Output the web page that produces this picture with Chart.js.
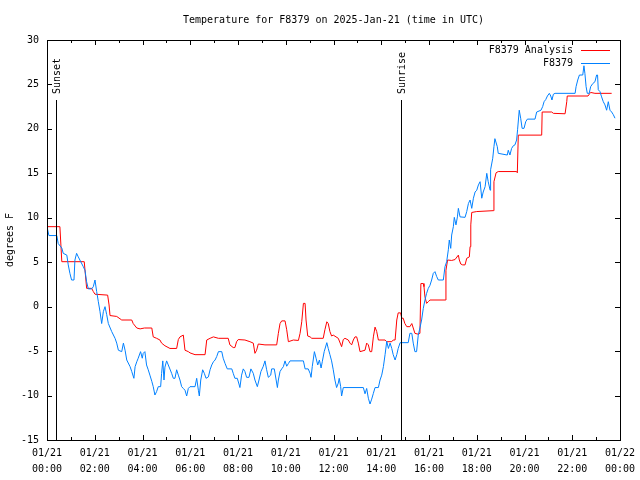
<!DOCTYPE html>
<html>
<head>
<meta charset="utf-8">
<title>Temperature for F8379</title>
<script src="https://cdn.jsdelivr.net/npm/chart.js@4"></script>
<style>
  html, body { margin: 0; padding: 0; background: #fff; }
</style>
</head>
<body>
<canvas id="chartTemp" width="640" height="480"></canvas>
<script>
// hours since 2025-01-21 00:00 UTC, temperatures in degrees F
const analysisHours = [0.00,0.54,0.62,1.56,1.66,1.87,1.94,2.01,2.54,2.60,2.64,2.92,3.13,3.55,3.61,3.76,3.90,4.08,4.39,4.45,
  4.59,4.73,4.80,4.94,5.15,5.43,5.50,5.57,5.71,5.78,5.92,5.99,6.20,6.62,6.69,6.83,6.97,7.18,7.59,7.66,
  7.80,7.87,7.94,8.01,8.29,8.50,8.64,8.71,8.78,8.85,9.13,9.62,9.69,9.76,9.83,9.97,10.04,10.11,10.32,10.53,
  10.60,10.67,10.74,10.81,10.85,10.92,11.02,11.09,11.57,11.64,11.72,11.78,11.85,11.92,11.99,12.20,12.34,12.41,12.48,12.62,
  12.69,12.76,12.83,12.90,12.97,13.04,13.11,13.32,13.39,13.46,13.53,13.60,13.67,13.74,13.81,13.88,14.16,14.23,14.44,14.50,
  14.58,14.65,14.71,14.81,14.86,14.92,14.99,15.07,15.20,15.28,15.34,15.41,15.55,15.62,15.66,15.76,15.79,15.83,15.90,15.97,
  16.04,16.70,16.71,16.78,16.95,17.09,17.23,17.27,17.33,17.41,17.51,17.58,17.69,17.72,17.75,17.79,18.00,18.69,18.72,18.81,
  18.90,19.67,19.70,19.74,20.72,20.74,21.14,21.21,21.70,21.77,21.79,22.66,22.74,22.77,22.95,23.65];
const analysisTemps = [9.0,9.0,5.06,5.06,2.06,2.06,1.7,1.4,1.3,0.19,-1.0,-1.1,-1.5,-1.5,-1.9,-2.4,-2.5,-2.4,-2.4,-3.4,
  -3.56,-3.75,-4.1,-4.4,-4.7,-4.7,-3.7,-3.4,-3.2,-4.9,-5.06,-5.2,-5.4,-5.4,-3.75,-3.56,-3.4,-3.56,-3.56,-4.3,
  -4.6,-4.6,-3.94,-3.7,-3.75,-3.94,-4.1,-5.25,-4.9,-4.2,-4.3,-4.3,-3.0,-1.9,-1.6,-1.6,-2.6,-3.94,-3.75,-3.8,
  -3.0,-1.7,0.37,0.37,-1.5,-3.3,-3.4,-3.56,-3.56,-2.6,-1.7,-1.9,-2.8,-3.3,-3.2,-3.56,-4.5,-3.7,-3.56,-3.75,
  -4.1,-4.3,-3.75,-3.4,-3.4,-4.1,-5.06,-4.9,-4.1,-4.3,-5.06,-5.06,-3.4,-2.3,-2.8,-3.75,-3.75,-3.94,-3.94,-3.75,
  -3.75,-1.5,-0.7,-0.7,-1.3,-1.3,-1.9,-2.25,-2.25,-1.9,-2.4,-3.0,-3.1,-3.0,2.6,2.6,2.25,1.1,0.37,0.56,
  0.75,0.75,4.1,5.25,5.2,5.3,5.8,5.25,4.8,4.7,4.7,5.44,5.6,6.75,9.2,10.6,10.7,10.8,14.06,15.06,
  15.2,15.2,15.06,19.3,19.3,21.9,21.9,21.75,21.7,23.06,23.7,23.7,24.0,24.1,24.0,24.0];

const obsHours = [0.00,0.08,0.41,0.47,0.62,0.68,0.83,0.89,0.96,1.03,1.13,1.17,1.24,1.31,1.52,1.59,1.66,1.73,1.87,1.94,
  2.01,2.08,2.15,2.22,2.29,2.36,2.43,2.50,2.57,2.71,2.85,2.92,2.99,3.13,3.20,3.27,3.34,3.48,3.55,3.64,
  3.69,3.76,3.82,3.92,3.99,4.03,4.10,4.17,4.24,4.31,4.39,4.45,4.52,4.59,4.66,4.76,4.80,4.85,4.90,4.94,
  5.01,5.08,5.22,5.29,5.36,5.43,5.50,5.57,5.64,5.71,5.78,5.85,5.92,5.99,6.20,6.27,6.34,6.38,6.44,6.52,
  6.59,6.66,6.76,6.83,6.90,6.97,7.04,7.11,7.18,7.32,7.38,7.46,7.55,7.74,7.80,7.87,7.97,8.04,8.08,8.15,
  8.22,8.29,8.36,8.46,8.54,8.64,8.71,8.81,8.88,8.96,9.06,9.13,9.20,9.27,9.37,9.41,9.52,9.65,9.69,9.76,
  9.83,9.90,9.97,10.04,10.11,10.18,10.74,10.81,10.94,11.02,11.06,11.11,11.20,11.27,11.34,11.41,11.48,11.53,11.61,11.72,
  11.78,11.85,11.92,11.99,12.06,12.13,12.20,12.24,12.30,12.34,12.41,13.25,13.32,13.39,13.46,13.53,13.60,13.67,13.74,13.88,
  13.95,14.02,14.09,14.16,14.23,14.30,14.37,14.44,14.50,14.58,14.65,14.71,14.79,15.13,15.20,15.28,15.34,15.41,15.48,15.55,
  15.62,15.69,15.76,15.83,15.90,15.97,16.04,16.11,16.18,16.25,16.32,16.39,16.60,16.67,16.74,16.81,16.85,16.91,16.95,17.02,
  17.06,17.13,17.19,17.23,17.30,17.51,17.58,17.65,17.72,17.79,17.86,17.93,18.00,18.07,18.14,18.21,18.27,18.35,18.42,18.48,
  18.56,18.58,18.67,18.72,18.76,18.86,18.90,19.28,19.32,19.39,19.46,19.53,19.60,19.67,19.71,19.78,19.84,19.90,19.98,20.05,
  20.12,20.44,20.51,20.69,20.76,20.82,20.89,20.96,21.04,21.10,21.15,21.21,21.28,22.12,22.16,22.23,22.30,22.44,22.49,22.53,
  22.58,22.63,22.71,22.77,22.86,22.95,23.02,23.06,23.09,23.16,23.23,23.30,23.37,23.44,23.51,23.58,23.65,23.72,23.79];
const obsTemps = [9.0,8.0,8.0,7.1,6.6,6.0,5.8,4.7,3.75,3.0,3.0,5.25,6.0,5.6,4.5,4.1,2.8,2.0,2.0,2.25,
  3.0,1.7,0.56,-0.56,-1.9,-0.56,0.0,-0.9,-1.9,-2.8,-3.56,-4.1,-4.9,-5.06,-4.1,-4.9,-6.0,-6.75,-7.3,-8.06,
  -6.75,-6.2,-5.8,-5.06,-5.8,-5.25,-5.06,-6.56,-7.1,-7.7,-8.4,-9.0,-9.94,-9.56,-9.0,-9.0,-7.5,-6.1,-8.25,-6.8,
  -6.1,-6.56,-7.5,-8.06,-8.06,-7.1,-7.7,-8.25,-9.0,-9.2,-9.4,-10.05,-9.2,-9.0,-9.0,-8.06,-9.4,-10.05,-8.25,-7.1,
  -7.5,-8.06,-7.9,-7.1,-6.56,-6.2,-6.0,-5.6,-5.06,-5.06,-5.8,-6.4,-7.0,-7.0,-7.5,-8.06,-8.06,-8.7,-9.1,-7.7,
  -7.0,-7.3,-7.95,-7.95,-7.0,-7.5,-8.25,-9.0,-8.25,-7.3,-6.7,-6.1,-7.1,-7.95,-7.7,-7.0,-7.0,-9.1,-8.25,-7.3,
  -7.0,-6.75,-6.1,-6.7,-6.4,-6.1,-6.1,-7.0,-7.0,-7.5,-7.95,-6.75,-5.06,-5.8,-6.56,-6.0,-6.9,-6.2,-5.06,-4.05,
  -4.7,-5.4,-6.1,-7.1,-8.25,-9.1,-8.6,-8.06,-9.0,-10.05,-9.1,-9.1,-9.8,-9.2,-10.3,-10.95,-10.4,-9.75,-9.1,-9.1,
  -8.25,-7.7,-6.75,-5.4,-3.9,-4.7,-4.1,-4.7,-5.4,-6.0,-5.4,-4.7,-4.05,-4.05,-3.0,-3.0,-4.1,-5.06,-5.06,-3.2,
  -2.4,-1.5,-0.2,0.75,1.5,2.06,2.4,3.0,3.75,3.94,3.4,3.0,3.0,4.5,5.06,6.4,7.5,6.56,8.06,9.0,
  10.05,9.2,10.1,11.06,10.1,10.05,10.7,11.6,12.0,11.06,12.2,12.9,13.1,13.7,14.06,12.2,12.9,13.5,15.0,14.06,
  13.1,15.4,16.7,18.0,18.9,18.0,17.25,17.06,17.6,17.06,17.8,18.1,18.2,18.75,19.9,22.1,21.2,20.06,20.06,20.8,
  21.1,21.1,21.9,22.1,22.5,23.06,23.3,23.7,24.0,23.7,23.25,23.9,24.0,24.0,24.75,25.5,26.06,26.06,27.1,26.25,
  24.75,24.0,24.0,24.75,25.1,25.3,26.06,26.06,24.4,24.2,23.6,23.06,22.7,22.1,23.06,22.1,21.9,21.6,21.2];

const sunEvents = ['Sunset', 'Sunrise'];
const sunEventHours = [0.38, 14.83];

const tickDates = ['01/21','01/21','01/21','01/21','01/21','01/21','01/21','01/21','01/21','01/21','01/21','01/21','01/22'];
const tickTimes = ['00:00','02:00','04:00','06:00','08:00','10:00','12:00','14:00','16:00','18:00','20:00','22:00','00:00'];

const monoFont = '"DejaVu Sans Mono", "Liberation Mono", monospace';

const toPoints = (hours, temps) => hours.map((h, i) => ({ x: h, y: temps[i] }));

// gnuplot style frame, inward ticks, sun lines and legend
const gnuplotFrame = {
  id: 'gnuplotFrame',
  afterDatasetsDraw(chart) {
    const { ctx, chartArea: a, scales: { x, y } } = chart;
    const snap = v => Math.round(v) + 0.5;
    ctx.save();
    ctx.strokeStyle = '#000';
    ctx.lineWidth = 1;
    ctx.beginPath();
    sunEventHours.forEach(h => {
      const px = snap(x.getPixelForValue(h));
      ctx.moveTo(px, a.top + 60);
      ctx.lineTo(px, a.bottom);
    });
    for (let h = 0; h <= 24; h++) {
      const px = snap(x.getPixelForValue(h));
      const len = h % 2 === 0 ? 5 : 3;
      ctx.moveTo(px, a.bottom);
      ctx.lineTo(px, a.bottom - len);
      ctx.moveTo(px, a.top);
      ctx.lineTo(px, a.top + len);
    }
    y.ticks.forEach(t => {
      const py = snap(y.getPixelForValue(t.value));
      ctx.moveTo(a.left, py);
      ctx.lineTo(a.left + 5, py);
      ctx.moveTo(a.right, py);
      ctx.lineTo(a.right - 5, py);
    });
    ctx.stroke();
    ctx.strokeRect(snap(a.left), snap(a.top), Math.round(a.right - a.left), Math.round(a.bottom - a.top));

    ctx.fillStyle = '#000';
    ctx.font = '10px ' + monoFont;
    sunEvents.forEach((label, i) => {
      const px = x.getPixelForValue(sunEventHours[i]) + 1;
      ctx.save();
      ctx.translate(px, a.top + 54);
      ctx.rotate(-Math.PI / 2);
      ctx.textAlign = 'left';
      ctx.textBaseline = 'middle';
      ctx.fillText(label, 0, 0);
      ctx.restore();
    });

    chart.data.datasets.forEach((ds, i) => {
      const ly = a.top + 10 + i * 13;
      ctx.textAlign = 'right';
      ctx.textBaseline = 'middle';
      ctx.fillText(ds.label, a.right - 47, ly);
      ctx.strokeStyle = ds.borderColor;
      ctx.beginPath();
      ctx.moveTo(a.right - 39, snap(ly));
      ctx.lineTo(a.right - 10, snap(ly));
      ctx.stroke();
    });
    ctx.restore();
  }
};

new Chart(document.getElementById('chartTemp'), {
  type: 'line',
  data: {
    datasets: [
      {
        label: 'F8379 Analysis',
        data: toPoints(analysisHours, analysisTemps),
        borderColor: '#ff0000',
        borderWidth: 1,
        pointRadius: 0,
        tension: 0,
        order: 1
      },
      {
        label: 'F8379',
        data: toPoints(obsHours, obsTemps),
        borderColor: '#0080ff',
        borderWidth: 1,
        pointRadius: 0,
        tension: 0,
        order: 0
      }
    ]
  },
  options: {
    responsive: false,
    animation: false,
    devicePixelRatio: 1,
    layout: { padding: { left: 0, right: 20, top: 0, bottom: 0 } },
    plugins: {
      legend: { display: false },
      tooltip: { enabled: false },
      title: {
        display: true,
        text: 'Temperature for F8379 on 2025-Jan-21 (time in UTC)',
        color: '#000',
        fullSize: false,
        font: { family: monoFont, size: 10, weight: 'normal', lineHeight: 1.2 },
        padding: { top: 14, bottom: 14 }
      }
    },
    scales: {
      x: {
        type: 'linear',
        min: 0,
        max: 24,
        grid: { display: false },
        border: { display: false },
        ticks: {
          stepSize: 2,
          autoSkip: false,
          maxRotation: 0,
          padding: -3,
          color: '#000',
          font: { family: monoFont, size: 10, lineHeight: 1.6 },
          callback: (v, i) => [tickDates[i], tickTimes[i]]
        },
        afterFit: s => { s.height = 40; }
      },
      y: {
        min: -15,
        max: 30,
        grid: { display: false },
        border: { display: false },
        ticks: {
          stepSize: 5,
          padding: 0,
          color: '#000',
          font: { family: monoFont, size: 10 }
        },
        title: {
          display: true,
          text: 'degrees F',
          color: '#000',
          font: { family: monoFont, size: 10, lineHeight: 1.2 },
          padding: { top: 4, bottom: 0 }
        },
        afterFit: s => { s.width = 47; }
      }
    }
  },
  plugins: [gnuplotFrame]
});
</script>
</body>
</html>
